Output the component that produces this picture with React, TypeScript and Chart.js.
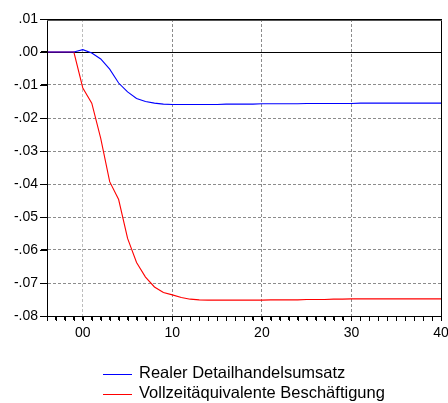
import React, { useEffect, useRef } from "react";
import { Chart, registerables } from "chart.js";

Chart.register(...registerables);

const periods = [-4, -3, -2, -1, 0, 1, 2, 3, 4, 5, 6, 7, 8, 9, 10, 11, 12, 13, 14, 15, 16, 17, 18, 19, 20, 21, 22, 23, 24, 25, 26, 27, 28, 29, 30, 31, 32, 33, 34, 35, 36, 37, 38, 39, 40];

const retailSales = [0, 0, 0, 0, 0.0007, -0.0003, -0.0021, -0.0052, -0.0094, -0.0121, -0.0141, -0.015, -0.0155, -0.0158, -0.0159,
  -0.0159, -0.0159, -0.0159, -0.0159, -0.0159, -0.0158, -0.0158, -0.0158, -0.0158, -0.0157, -0.0157, -0.0157, -0.0157, -0.0157,
  -0.0156, -0.0156, -0.0156, -0.0156, -0.0156, -0.0156, -0.0155, -0.0155, -0.0155, -0.0155, -0.0155, -0.0155, -0.0155, -0.0155, -0.0155, -0.0155];

const employment = [0, 0, 0, 0, -0.0109, -0.0155, -0.0262, -0.0393, -0.0447, -0.0565, -0.0638, -0.0682, -0.0712, -0.0729, -0.0736,
  -0.0744, -0.0749, -0.0751, -0.0752, -0.0752, -0.0752, -0.0752, -0.0752, -0.0752, -0.0752, -0.0751, -0.0751, -0.0751, -0.0751,
  -0.075, -0.075, -0.075, -0.0749, -0.0749, -0.0748, -0.0748, -0.0748, -0.0748, -0.0748, -0.0748, -0.0748, -0.0748, -0.0748, -0.0748, -0.0748];

const seriesLabels = ["Realer Detailhandelsumsatz", "Vollzeitäquivalente Beschäftigung"];
const seriesColors = ["#0000ff", "#ff0000"];

const yMin = -0.08;
const yMax = 0.01;
const yStep = 0.01;
const xMin = -4;
const xMax = 40;
const xStep = 1;

const FONT = "'Liberation Sans', Arial, sans-serif";

const framePlugin = {
  id: "frame",
  beforeDatasetsDraw(chart: any) {
    const { ctx, chartArea, scales } = chart;
    const y0 = Math.round(scales.y.getPixelForValue(0));
    ctx.save();
    ctx.fillStyle = "#000";
    ctx.fillRect(Math.round(chartArea.left), y0, Math.round(chartArea.right - chartArea.left), 1);
    ctx.restore();
  },
  afterDatasetsDraw(chart: any) {
    const { ctx, chartArea, scales } = chart;
    const L = Math.round(chartArea.left);
    const R = Math.round(chartArea.right);
    const T = Math.round(chartArea.top);
    const B = Math.round(chartArea.bottom);
    ctx.save();
    ctx.fillStyle = "#000";
    ctx.fillRect(L, T, R - L + 1, 1);
    ctx.fillRect(L, B, R - L + 1, 1);
    ctx.fillRect(L, T, 1, B - T + 1);
    ctx.fillRect(R, T, 1, B - T + 1);
    ctx.fillStyle = "#555";
    ctx.fillRect(L, T + 1, R - L + 1, 1);
    ctx.fillStyle = "#000";
    scales.x.ticks.forEach((t: any) => {
      const px = Math.round(scales.x.getPixelForValue(t.value));
      ctx.fillRect(px, B, 1, 5);
    });
    scales.y.ticks.forEach((t: any) => {
      const py = Math.round(scales.y.getPixelForValue(t.value));
      ctx.fillRect(L - 7, py, 7, 1);
    });
    ctx.restore();
  },
  afterDraw(chart: any) {
    const { ctx, chartArea } = chart;
    ctx.save();
    ctx.font = "16.5px " + FONT;
    ctx.textBaseline = "middle";
    ctx.textAlign = "left";
    const ds = chart.data.datasets;
    let maxW = 0;
    ds.forEach((d: any) => { maxW = Math.max(maxW, ctx.measureText(d.label).width); });
    const lineLen = 29;
    const gap = 7;
    const blockW = lineLen + gap + maxW;
    const cx = (chartArea.left + chartArea.right) / 2;
    const x0 = Math.round(cx - blockW / 2);
    const firstY = chartArea.bottom + 58;
    const rowH = 19.5;
    ds.forEach((d: any, i: number) => {
      const yy = Math.round(firstY + i * rowH);
      ctx.fillStyle = d.borderColor;
      ctx.fillRect(x0, yy, lineLen, 1);
      ctx.fillStyle = "#000";
      ctx.fillText(d.label, x0 + lineLen + gap, yy - 0.5);
    });
    ctx.restore();
  },
};

export default function App() {
  const ref = useRef<HTMLCanvasElement>(null);

  useEffect(() => {
    document.body.style.margin = "0";
    Chart.defaults.font.family = FONT;
    Chart.defaults.font.size = 14;
    Chart.defaults.color = "#000";

    const series = [retailSales, employment];
    const chart = new Chart(ref.current!, {
      type: "line",
      data: {
        datasets: series.map((vals, i) => ({
          label: seriesLabels[i],
          data: periods.map((p, j) => ({ x: p, y: vals[j] })),
          borderColor: seriesColors[i],
          backgroundColor: seriesColors[i],
          borderWidth: 1.1,
          pointRadius: 0,
          tension: 0,
          fill: false,
        })),
      },
      options: {
        responsive: false,
        animation: false,
        layout: { padding: { top: 19, right: 0, left: 0, bottom: 0 } },
        plugins: {
          legend: { display: false },
          tooltip: { enabled: false },
        },
        scales: {
          x: {
            type: "linear",
            min: xMin,
            max: xMax,
            afterFit: (s: any) => { s.height = 87; s.paddingRight = 7; s.paddingLeft = 0; },
            ticks: {
              stepSize: xStep,
              autoSkip: false,
              maxRotation: 0,
              padding: 5,
              font: { size: 14, family: FONT },
              callback: (v: any) => {
                const n = Math.round(Number(v));
                if (n % 10 !== 0) return "";
                return n === 0 ? "00" : String(n);
              },
            },
            grid: {
              drawOnChartArea: true,
              drawTicks: true,
              tickLength: 4,
              tickColor: "#000",
              color: (c: any) => {
                const n = Math.round(c.tick?.value ?? 0);
                if (n % 10 !== 0 || n === xMax) return "rgba(0,0,0,0)";
                return n === 0 ? "#bdbdbd" : "#8c8c8c";
              },
              lineWidth: 1,
            },
            border: { display: true, color: "#000", width: 1, dash: [3, 2] },
          },
          y: {
            type: "linear",
            min: yMin,
            max: yMax,
            afterFit: (s: any) => { s.width = 47; },
            ticks: {
              stepSize: yStep,
              padding: 3,
              font: { size: 14, family: FONT },
              callback: (v: any) => {
                const r = Math.round(Number(v) * 100) / 100;
                const s = Math.abs(r).toFixed(2).replace(/^0/, "");
                return r < 0 ? "-" + s : s;
              },
            },
            grid: {
              drawTicks: true,
              tickLength: 6,
              tickColor: "#000",
              color: (c: any) => {
                const v = Math.round((c.tick?.value ?? 0) * 100);
                if (v === 0 || v === 1 || v === -8) return "rgba(0,0,0,0)";
                return "#8c8c8c";
              },
              lineWidth: 1,
            },
            border: { display: true, color: "#000", width: 1, dash: [3, 2] },
          },
        },
      },
      plugins: [framePlugin],
    });
    return () => chart.destroy();
  }, []);

  return (
    <div style={{ position: "fixed", left: 0, top: 0, width: 448, height: 403, background: "#fff" }}>
      <canvas ref={ref} width={448} height={403} />
    </div>
  );
}
